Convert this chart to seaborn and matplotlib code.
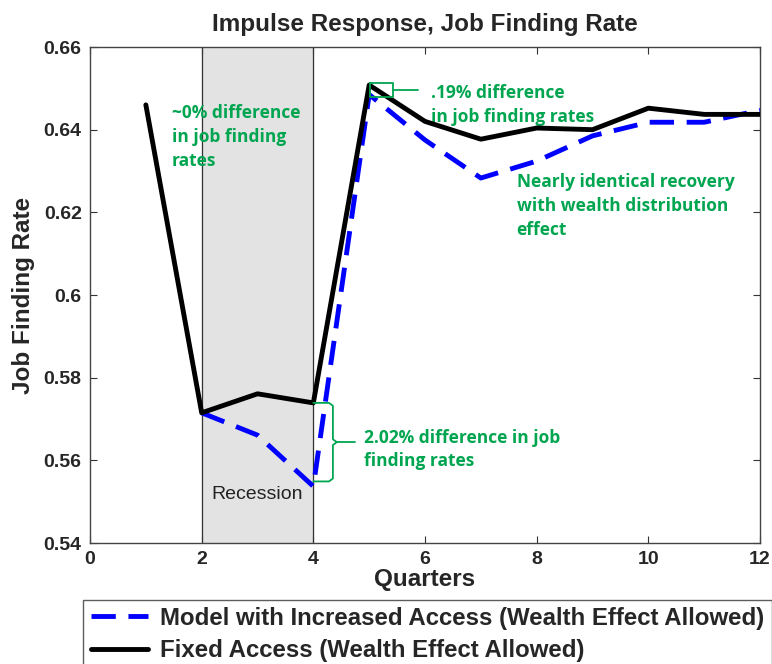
import matplotlib
matplotlib.use("Agg")
import matplotlib.pyplot as plt
import seaborn as sns
import pandas as pd
import numpy as np

quarters = [1, 2, 3, 4, 5, 6, 7, 8, 9, 10, 11, 12]
increased_access = [np.nan, 0.5715, 0.5661, 0.5537, 0.6485, 0.6375, 0.6283, 0.6324, 0.6385, 0.6418, 0.6418, 0.6447]
fixed_access = [0.646, 0.5715, 0.5761, 0.5739, 0.6508, 0.6420, 0.6377, 0.6404, 0.6400, 0.6452, 0.6437, 0.6437]
x_ticks = [0, 2, 4, 6, 8, 10, 12]
y_ticks = [0.54, 0.56, 0.58, 0.6, 0.62, 0.64, 0.66]
y_tick_labels = ["0.54", "0.56", "0.58", "0.6", "0.62", "0.64", "0.66"]
label_blue = "Model with Increased Access (Wealth Effect Allowed)"
label_black = "Fixed Access (Wealth Effect Allowed)"

sns.set_theme(style="white")
plt.rcParams['font.family'] = ['Liberation Sans', 'DejaVu Sans']

df = pd.DataFrame({"q": quarters, "inc": increased_access, "fix": fixed_access})

fig = plt.figure(figsize=(7.72, 6.64), dpi=100)
ax = fig.add_axes([0.1166, 0.1822, 0.8679, 0.747])

ax.axvspan(2, 4, color="#e3e3e3", zorder=0)
ax.axvline(2, color="#333333", lw=0.9, zorder=1)
ax.axvline(4, color="#333333", lw=0.9, zorder=1)

sns.lineplot(data=df, x="q", y="inc", ax=ax, color="#0000ff", lw=3.5,
             label=label_blue, zorder=3)
ax.lines[-1].set_dashes([5, 2.6])
sns.lineplot(data=df, x="q", y="fix", ax=ax, color="black", lw=3.5,
             label=label_black, zorder=4)

ax.set_xlim(0, 12)
ax.set_ylim(0.54, 0.66)
ax.set_xticks(x_ticks)
ax.set_yticks(y_ticks)
ax.set_yticklabels(y_tick_labels)
for lab in ax.get_xticklabels() + ax.get_yticklabels():
    lab.set_fontweight("bold")
    lab.set_fontsize(14)
ax.tick_params(direction="in", length=5, width=0.8, color="#333333",
               top=True, right=True, bottom=True, left=True, pad=6)
for s in ax.spines.values():
    s.set_color("#444444")
    s.set_linewidth(1.0)

ax.set_title("Impulse Response, Job Finding Rate", fontsize=17.5, fontweight="bold", pad=11.5)
ax.set_xlabel("Quarters", fontsize=17.5, fontweight="bold", labelpad=0)
ax.set_ylabel("Job Finding Rate", fontsize=17.5, fontweight="bold", labelpad=6)

green = "#00a550"
tf = dict(color=green, fontsize=12.5, fontweight="bold", family=["Open Sans", "DejaVu Sans"],
          va="top", ha="left", linespacing=1.42)
ax.text(1.47, 0.6462, "~0% difference\nin job finding\nrates", **tf)
ax.text(6.1, 0.6510, ".19% difference\nin job finding rates", **tf)
ax.text(7.64, 0.6295, "Nearly identical recovery\nwith wealth distribution\neffect", **tf)
ax.text(4.9, 0.5677, "2.02% difference in job\nfinding rates", **tf)
ax.text(3.0, 0.5497, "Recession", color="#222222", fontsize=14, ha="center", va="bottom")

# bracket at quarter 5
ax.plot([5.02, 5.43, 5.43, 5.02, 5.02], [0.6513, 0.6513, 0.6479, 0.6479, 0.6513],
        color=green, lw=1.3, zorder=5)
ax.plot([5.43, 5.88], [0.6497, 0.6497], color=green, lw=1.3, zorder=5)
# brace at quarter 4
ax.plot([4.0, 4.28, 4.35, 4.35, 4.42, 4.35, 4.35, 4.28, 4.0],
        [0.5739, 0.5739, 0.5732, 0.5651, 0.5644, 0.5637, 0.5556, 0.5549, 0.5549],
        color=green, lw=1.3, zorder=5)
ax.plot([4.42, 4.75], [0.5644, 0.5644], color=green, lw=1.3, zorder=5)

ax.get_legend().remove()
handles, labels = ax.get_legend_handles_labels()
leg = fig.legend(handles, labels, loc="upper left", bbox_to_anchor=(0.108, 0.097),
                 frameon=True, fancybox=False, edgecolor="#333333",
                 prop={"weight": "bold", "size": 17.3}, handlelength=2.4,
                 borderaxespad=0, borderpad=0.3, labelspacing=0.38, handletextpad=0.5)
leg.get_frame().set_linewidth(1.0)

fig.savefig("out.png", dpi=100)
